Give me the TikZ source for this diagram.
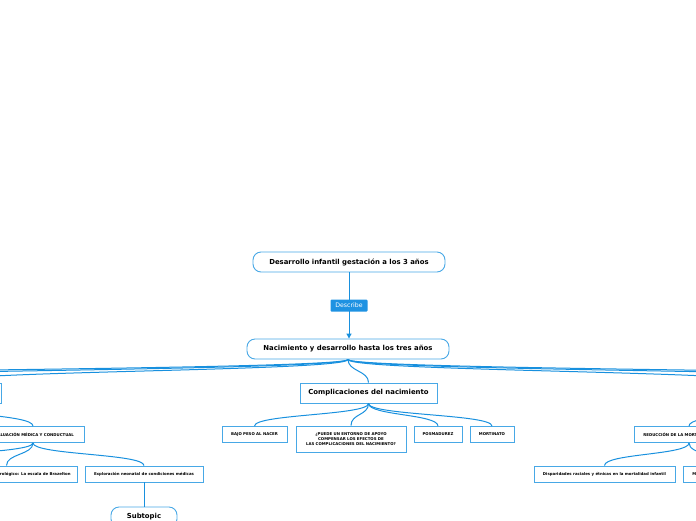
\documentclass[tikz,border=0pt]{standalone}
\usepackage{fontspec}
\setmainfont{DejaVu Sans}
\usetikzlibrary{positioning,arrows.meta,calc}
\definecolor{mmline}{RGB}{24,144,222}
\definecolor{mmborder}{RGB}{72,168,230}
\definecolor{mmlabel}{RGB}{30,146,226}

\begin{document}
\begin{tikzpicture}[x=1pt,y=-1pt,
    topic/.style={draw=mmborder,line width=0.9pt,fill=white,rounded corners=8pt,minimum height=20pt,inner sep=0pt,font=\bfseries\fontsize{6.9}{8}\selectfont},
    mainbox/.style={draw=mmborder,line width=0.9pt,fill=white,minimum height=20pt,inner sep=0pt,font=\bfseries\fontsize{6.9}{8}\selectfont},
    subbox/.style={draw=mmborder,line width=0.9pt,fill=white,minimum height=16pt,inner sep=0pt,align=center,font=\bfseries\fontsize{3.9}{4.6}\selectfont},
    describe/.style={fill=mmlabel,text=white,rounded corners=1pt,minimum width=37pt,minimum height=12pt,inner sep=0pt,font=\fontsize{6.2}{7}\selectfont},
    link/.style={draw=mmline,line width=1pt},
    branch/.style={to path={.. controls +(0,12) and +(0,-12) .. (\tikztotarget)}}]
   \useasboundingbox (0,0) rectangle (696,520);
   \clip (0,0) rectangle (696,520);

   \node[topic,minimum width=192pt] (root) at (349,262) {Desarrollo infantil gestación a los 3 años};
   \node[topic,minimum width=202pt] (nac) at (348,349) {Nacimiento y desarrollo hasta los tres años};
   \node[mainbox,minimum width=122pt] (fases) at (-60,393) {};
   \node[mainbox,minimum width=137pt] (compl) at (368.5,393) {Complicaciones del nacimiento};
   \node[subbox,minimum width=65pt] (bajo) at (254.5,434.5) {BAJO PESO AL NACER};
   \node[subbox,minimum width=110pt,minimum height=26pt] (entorno) at (351,439) {¿PUEDE UN ENTORNO DE APOYO\\COMPENSAR LOS EFECTOS DE\\LAS COMPLICACIONES DEL NACIMIENTO?};
   \node[subbox,minimum width=48pt] (posm) at (438,434.5) {POSMADUREZ};
   \node[subbox,minimum width=44pt] (mort) at (492,434.5) {MORTINATO};
   \node[subbox,minimum width=102pt] (evalu) at (33,434.5) {EVALUACIÓN MÉDICA Y CONDUCTUAL};
   \node[subbox,minimum width=141pt] (brazel) at (6.5,474) {Evaluación del estado neurológico: La escala de Brazelton};
   \node[subbox,minimum width=118pt] (explor) at (144,474) {Exploración neonatal de condiciones médicas};
   \node[topic,minimum width=66pt] (subtop) at (144,517) {Subtopic};
   \node[subbox,minimum width=110pt] (reduc) at (689,434.5) {REDUCCIÓN DE LA MORTALIDAD INFANTIL};
   \node[subbox,minimum width=141pt] (dispar) at (604.5,474) {Disparidades raciales y étnicas en la mortalidad infantil};
   \node[subbox,anchor=west,inner xsep=9pt] (muerte) at (683,474) {Muerte súbita del lactante};

   % ends of branches that run out of the picture
   \coordinate (farL1) at (-330,383);
   \coordinate (farL2) at (-560,383);
   \coordinate (apgar) at (-130,466);
   \coordinate (mortR) at (770,383);
   \coordinate (mortRb) at (770,403);
   \coordinate (farR1) at (1000,383);
   \coordinate (farR2) at (1200,383);

   \draw[link,-{Triangle[length=5pt,width=5pt]}] (root.south) -- node[describe] {Describe} (root.south |- nac.north);

    \path[link,branch]
    (nac.south) edge (fases.north)
    (nac.south) edge (farL1)
    (nac.south) edge (farL2)
    (nac.south) edge (compl.north)
    (nac.south) edge (mortR)
    (nac.south) edge (farR1)
    (nac.south) edge (farR2)
    (compl.south) edge (bajo.north)
    (compl.south) edge (entorno.north)
    (compl.south) edge (posm.north)
    (compl.south) edge (mort.north)
    (fases.south) edge (evalu.north)
    (evalu.south) edge (apgar)
    (evalu.south) edge (brazel.north)
    (evalu.south) edge (explor.north)
    (explor.south) edge (subtop.north)
    (mortRb) edge (reduc.north)
    (reduc.south) edge (dispar.north)
    (reduc.south) edge (muerte.north)
      ;
\end{tikzpicture}
\end{document}
